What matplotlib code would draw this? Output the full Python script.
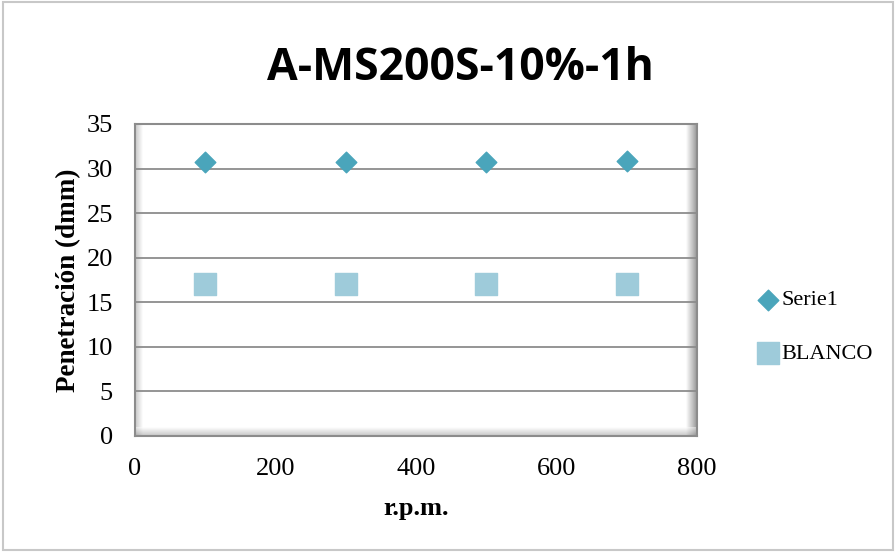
import matplotlib
matplotlib.use('Agg')
import matplotlib.pyplot as plt
import numpy as np

# data
rpm = [100, 300, 500, 700]
serie1 = [30.7, 30.7, 30.7, 30.9]
blanco = [17, 17, 17, 17]

fig = plt.figure(figsize=(8.96, 5.52), dpi=100)
# outer frame of chart area
fig.patches.append(plt.Rectangle((0.003, 0.003), 0.994, 0.994, transform=fig.transFigure,
                                 fill=False, edgecolor='#c8c8c8', linewidth=1.5))

ax = fig.add_axes([135/896, 1-436/552, (697-135)/896, (436-124)/552])

# 3D-ish shading inside plot box
sh = np.linspace(0.55, 1, 50)
ax.imshow(sh[None, :], extent=[0, 10, 0, 35], cmap='gray', vmin=0, vmax=1, aspect='auto', zorder=0.5, alpha=0.5)
ax.imshow(sh[::-1][None, :], extent=[785, 800, 0, 35], cmap='gray', vmin=0, vmax=1, aspect='auto', zorder=0.5, alpha=0.9)
ax.imshow(sh[::-1][:, None], extent=[0, 800, 0, 0.9], cmap='gray', vmin=0, vmax=1, aspect='auto', zorder=0.5, alpha=0.5)
ax.set_xlim(0, 800)
ax.set_ylim(0, 35)

for yv in range(5, 35, 5):
    ax.axhline(yv, color='#8c8c8c', linewidth=1.3, zorder=1)

ax.scatter(rpm, serie1, marker='D', s=110, color='#4aa5bb', edgecolor='#4aa5bb', zorder=3, label='Serie1')
ax.scatter(rpm, blanco, marker='s', s=230, color='#9ecbda', edgecolor='#9ecbda', zorder=3, label='BLANCO')

for s in ax.spines.values():
    s.set_color('#8c8c8c')
    s.set_linewidth(1.5)

ax.set_xticks(range(0, 801, 200))
ax.set_yticks(range(0, 36, 5))
ax.tick_params(length=0, labelsize=19)
ax.tick_params(axis='x', pad=16)
ax.tick_params(axis='y', pad=16)
for lab in ax.get_xticklabels() + ax.get_yticklabels():
    lab.set_fontfamily('Liberation Serif')

ax.set_xlabel('r.p.m.', fontsize=19, fontweight='bold', family='Liberation Serif', labelpad=12)
ax.set_ylabel('Penetración (dmm)', fontsize=19.5, fontweight='bold', family='Liberation Serif', labelpad=4)

fig.text(460/896, 1-68/552, 'A-MS200S-10%-1h', ha='center', va='center',
         fontsize=32, fontweight='bold', family='Open Sans')

ax.legend(loc='center left', bbox_to_anchor=(735/896, 1-327/552), bbox_transform=fig.transFigure,
          frameon=False, prop={'family': 'Liberation Serif', 'size': 16},
          handletextpad=0.0, labelspacing=1.5, handlelength=1.2)

fig.savefig('out.png', dpi=100)
